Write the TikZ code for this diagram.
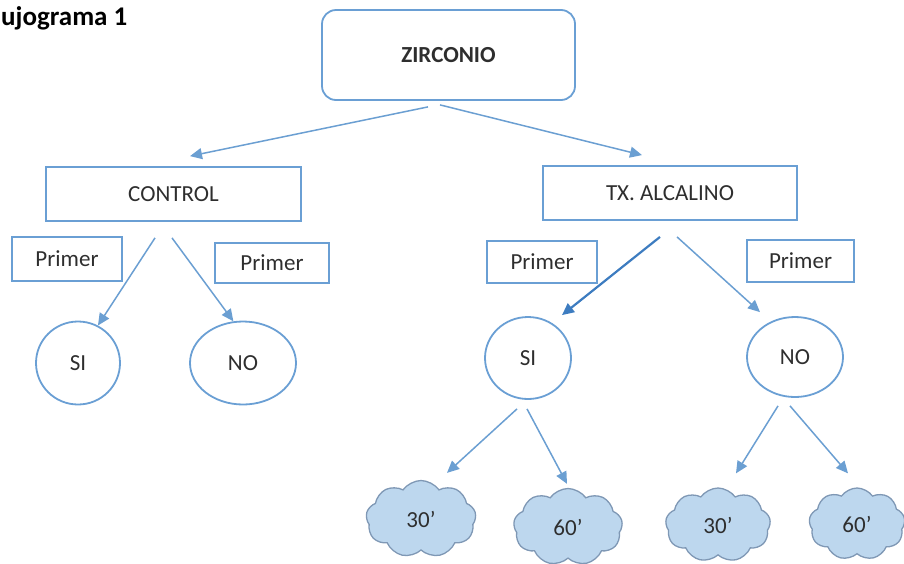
\documentclass[tikz,border=0pt]{standalone}
\usepackage{fontspec}
\setmainfont{Carlito}
\usetikzlibrary{shapes.geometric,shapes.symbols,arrows.meta}
\definecolor{bordblue}{HTML}{6A9FD4}
\definecolor{arrblue}{HTML}{6B9FD2}
\definecolor{arrdark}{HTML}{3D7CC0}
\definecolor{cloudfill}{HTML}{BDD7EE}
\definecolor{cloudline}{HTML}{7F98B5}
\definecolor{txt}{HTML}{2E2E2E}
\tikzset{
  lbl/.style={font=\fontsize{23}{27}\selectfont, text=txt},
  boxnode/.style={lbl, draw=bordblue, line width=1.8pt, rectangle, inner sep=0pt},
  rbox/.style={boxnode, rounded corners=14pt},
  circ/.style={lbl, draw=bordblue, line width=1.8pt, ellipse, inner sep=0pt},
  cloudnode/.style={lbl, cloud, cloud puffs=9, cloud puff arc=110, aspect=1.5, draw=cloudline, fill=cloudfill, line width=1.3pt, inner sep=0pt},
  arr/.style={draw=arrblue, line width=1.5pt, -{Triangle[length=12pt,width=11pt]}},
  arrd/.style={draw=arrdark, line width=2.2pt, -{Triangle[length=12pt,width=11pt]}}
}
\begin{document}
\begin{tikzpicture}[x=1pt,y=-1pt]
\path[use as bounding box] (0,0) rectangle (904,563);
\node[font=\fontsize{27}{31}\selectfont\bfseries, anchor=base west, text=black, inner sep=0pt] (title) at (1,25) {ujograma 1};

\node[rbox, minimum width=253pt, minimum height=90pt] (zr) at (448.5,55) {\bfseries ZIRCONIO};
\node[boxnode, minimum width=255pt, minimum height=54pt] (ctrl) at (173.5,194) {CONTROL};
\node[boxnode, minimum width=254pt, minimum height=54pt] (tx) at (670,193) {TX. ALCALINO};

\node[boxnode, minimum width=110pt, minimum height=44pt] (p1) at (67,259) {Primer};
\node[boxnode, minimum width=114pt, minimum height=40pt] (p2) at (272,263) {Primer};
\node[boxnode, minimum width=110pt, minimum height=42pt] (p3) at (542,262) {Primer};
\node[boxnode, minimum width=107pt, minimum height=42pt] (p4) at (800.5,261) {Primer};

\node[circ, minimum width=84pt, minimum height=83pt] (sil) at (78,363) {SI};
\node[circ, minimum width=106pt, minimum height=83pt] (nol) at (243,363) {NO};
\node[circ, minimum width=86pt, minimum height=82pt] (sir) at (528,358) {SI};
\node[circ, minimum width=96pt, minimum height=80pt] (nor) at (795,357) {NO};

\node[cloudnode, minimum width=110pt, minimum height=77pt] (c1) at (421,519) {30’};
\node[cloudnode, minimum width=109pt, minimum height=77pt] (c2) at (568,527) {60’};
\node[cloudnode, minimum width=105pt, minimum height=74pt] (c3) at (718,525) {30’};
\node[cloudnode, minimum width=96pt, minimum height=72pt] (c4) at (857,524) {60’};

\draw[arr] ([xshift=-20.5pt,yshift=-6pt]zr.south) -- ([xshift=16.5pt,yshift=10pt]ctrl.north);
\draw[arr] ([xshift=-8.5pt,yshift=-4pt]zr.south) -- ([xshift=-28pt,yshift=10pt]tx.north);

\draw[arr] ([xshift=-18.5pt,yshift=-16pt]ctrl.south) -- (sil.62);
\draw[arr] ([xshift=-1.5pt,yshift=-16pt]ctrl.south) -- (nol.103);

\draw[arrd] ([xshift=-10pt,yshift=-16pt]tx.south) -- ([xshift=34pt,yshift=1pt]sir.north);
\draw[arr] ([xshift=7pt,yshift=-16pt]tx.south) -- ([xshift=-35pt,yshift=4pt]nor.north);

\draw[arr] ([xshift=-11pt,yshift=-9pt]sir.south) -- ([xshift=26pt,yshift=7pt]c1.north);
\draw[arr] ([xshift=-1pt,yshift=-9pt]sir.south) -- ([xshift=-1pt,yshift=4pt]c2.north);
\draw[arr] ([xshift=-17pt,yshift=-8pt]nor.south) -- ([xshift=18pt,yshift=14pt]c3.north);
\draw[arr] ([xshift=-5pt,yshift=-8pt]nor.south) -- ([xshift=-9pt,yshift=14pt]c4.north);
\end{tikzpicture}
\end{document}
